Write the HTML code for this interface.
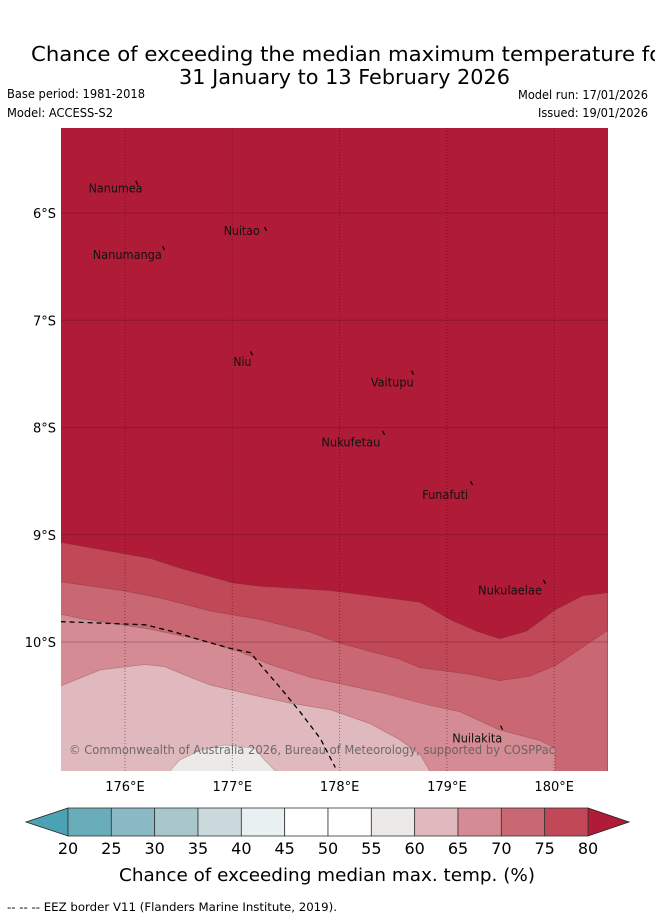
<!DOCTYPE html>
<html><head><meta charset="utf-8"><style>
html,body{margin:0;padding:0;background:#fff;}
svg{display:block;font-family:"DejaVu Sans","Liberation Sans",sans-serif;}
</style></head><body>
<svg id="chart" width="655" height="919" viewBox="0 0 655 919">
<text x="31" y="61" font-size="20.5" textLength="640" lengthAdjust="spacingAndGlyphs" fill="#000">Chance of exceeding the median maximum temperature for</text>
<text x="179" y="84" font-size="20.5" textLength="331" lengthAdjust="spacingAndGlyphs" fill="#000">31 January to 13 February 2026</text>
<text x="7" y="98" font-size="12" textLength="138" lengthAdjust="spacingAndGlyphs">Base period: 1981-2018</text>
<text x="7" y="117" font-size="12" textLength="106" lengthAdjust="spacingAndGlyphs">Model: ACCESS-S2</text>
<text x="648" y="99" font-size="12" text-anchor="end" textLength="130" lengthAdjust="spacingAndGlyphs">Model run: 17/01/2026</text>
<text x="648" y="117" font-size="12" text-anchor="end" textLength="110" lengthAdjust="spacingAndGlyphs">Issued: 19/01/2026</text>
<defs><clipPath id="mapclip"><rect x="61" y="128" width="547" height="643"/></clipPath></defs>
<g id="map" clip-path="url(#mapclip)"></g>
<g id="axes"></g>
<g id="cbar"></g>
<text x="119" y="881" font-size="18" textLength="416" lengthAdjust="spacingAndGlyphs">Chance of exceeding median max. temp. (%)</text>
<text x="7" y="911" font-size="11.5" textLength="330" lengthAdjust="spacingAndGlyphs">-- -- -- EEZ border V11 (Flanders Marine Institute, 2019).</text>
</svg>
<script>
// Data
const lonTicks=[176,177,178,179,180];
const latTicks=[-6,-7,-8,-9,-10];
const cbarLevels=[20,25,30,35,40,45,50,55,60,65,70,75,80];
const cbarColors=["#6aadba","#8ab9c4","#a9c7cb","#c9d9dc","#e9f0f1","#ffffff","#ffffff","#ebeae8","#dfb9bd","#d48b93","#c96772","#c04857"];
const lowColor="#4ba2b2", highColor="#b01c37";
const c75Lon=[175.40,176.23,176.51,177.01,177.26,177.91,178.75,179.03,179.28,179.49,179.74,180.01,180.26,180.50];
const c75Lat=[-9.07,-9.22,-9.31,-9.45,-9.48,-9.52,-9.63,-9.79,-9.90,-9.97,-9.90,-9.70,-9.57,-9.54];
const c70Lon=[175.40,175.97,176.33,176.79,177.26,177.73,178.00,178.56,178.75,179.21,179.49,179.77,180.01,180.50];
const c70Lat=[-9.44,-9.52,-9.59,-9.71,-9.79,-9.91,-10.01,-10.16,-10.24,-10.30,-10.36,-10.32,-10.22,-9.89];
const c65Lon=[175.40,175.58,176.23,176.70,177.07,177.35,177.73,178.38,178.84,179.12,179.49,179.87,180.01,180.01];
const c65Lat=[-9.74,-9.78,-9.88,-9.98,-10.09,-10.21,-10.33,-10.47,-10.59,-10.65,-10.82,-10.92,-10.99,-11.20];
const c60Lon=[175.40,175.77,176.19,176.37,176.61,176.79,177.26,177.54,177.91,178.28,178.56,178.75,178.84];
const c60Lat=[-10.41,-10.26,-10.21,-10.23,-10.33,-10.40,-10.51,-10.57,-10.63,-10.76,-10.91,-11.05,-11.20];
const c55Lon=[176.42,176.51,176.70,176.93,177.21,177.30,177.40];
const c55Lat=[-11.20,-11.10,-11.01,-10.96,-10.99,-11.10,-11.20];
const eezLon=[175.40,176.19,176.47,176.70,176.98,177.17,177.26,177.45,177.63,177.82,177.96];
const eezLat=[-9.81,-9.84,-9.91,-9.98,-10.06,-10.10,-10.21,-10.43,-10.65,-10.90,-11.17];
const islandNames=["Nanumea","Nuitao","Nanumanga","Niu","Vaitupu","Nukufetau","Funafuti","Nukulaelae","Nuilakita"];
const islandLon=[176.10,177.30,176.35,177.17,178.67,178.40,179.22,179.90,179.50];
const islandLat=[-5.70,-6.13,-6.31,-7.29,-7.47,-8.03,-8.50,-9.42,-10.78];
const labelLon=[175.66,176.92,175.70,177.01,178.29,177.83,178.77,179.29,179.05];
const labelLat=[-5.77,-6.17,-6.39,-7.39,-7.58,-8.14,-8.63,-9.52,-10.90];
const labelWidths=[54,36,69,18,43,59,46,64,50];

const NS="http://www.w3.org/2000/svg";
function xS(lon){return 125+(lon-176)*107.3;}
function yS(lat){return 213+(-6-lat)*107.25;}
function mk(tag,attrs,parent){const e=document.createElementNS(NS,tag);for(const k in attrs)e.setAttribute(k,attrs[k]);parent.appendChild(e);return e;}
const map=document.getElementById('map');
const bg=mk('rect',{x:61,y:128,width:547,height:643,fill:highColor},map);


const BOT=yS(-11.2)+5;
function band(lons,lats,color,name){
  let d='M'+lons.map((l,i)=>xS(l).toFixed(1)+','+yS(lats[i]).toFixed(1)).join(' L');
  d+=' L'+xS(lons[lons.length-1]).toFixed(1)+','+BOT+' L'+xS(lons[0]).toFixed(1)+','+BOT+' Z';
  const p=mk('path',{d:d,fill:color,stroke:'rgba(90,30,40,0.3)','stroke-width':0.7},map);
  
  
}
band(c75Lon,c75Lat,"#c04857","contour-75-80");
band(c70Lon,c70Lat,"#c96772","contour-70-75");
band(c65Lon,c65Lat,"#d48b93","contour-65-70");
band(c60Lon,c60Lat,"#dfb9bd","contour-60-65");
band(c55Lon,c55Lat,"#ebeae8","contour-55-60");
lonTicks.forEach(l=>{const g=mk('line',{x1:xS(l),x2:xS(l),y1:128,y2:771,stroke:'rgba(60,0,10,0.45)','stroke-width':1,'stroke-dasharray':'1,2'},map);

});
latTicks.forEach(l=>{const g=mk('line',{x1:61,x2:608,y1:yS(l),y2:yS(l),stroke:'rgba(60,0,10,0.25)','stroke-width':1},map);

});
const eez=mk('polyline',{points:eezLon.map((l,i)=>xS(l).toFixed(1)+','+yS(eezLat[i]).toFixed(1)).join(' '),fill:'none',stroke:'#000','stroke-width':1.3,'stroke-dasharray':'5,4'},map);


islandNames.forEach((n,i)=>{
  const m=mk('line',{x1:xS(islandLon[i]),y1:yS(islandLat[i]),x2:xS(islandLon[i])+2,y2:yS(islandLat[i])+4,stroke:'#000','stroke-width':1.2},map);
  
  
  const t=mk('text',{x:xS(labelLon[i]),y:yS(labelLat[i])+4,'font-size':12,fill:'#111',textLength:labelWidths[i],lengthAdjust:'spacingAndGlyphs'},map);
  t.textContent=n;
  
  
});
const cp=mk('text',{x:69,y:754,'font-size':12,fill:'rgba(90,90,90,0.85)',textLength:486,lengthAdjust:'spacingAndGlyphs'},map);
cp.textContent='© Commonwealth of Australia 2026, Bureau of Meteorology, supported by COSPPac';


const axes=document.getElementById('axes');
lonTicks.forEach(l=>{const t=mk('text',{x:xS(l),y:791,'font-size':13,'text-anchor':'middle'},axes);
t.textContent=l+'°E';

});
latTicks.forEach(l=>{const t=mk('text',{x:56,y:yS(l)+5,'font-size':13,'text-anchor':'end'},axes);
t.textContent=(-l)+'°S';

});
const cb=document.getElementById('cbar');
const cx0=68,cx1=588,cy0=808,cy1=836,seg=(cx1-cx0)/cbarColors.length;
const la=mk('polygon',{points:`${cx0},${cy0} 26,822 ${cx0},${cy1}`,fill:lowColor,stroke:'#222','stroke-width':0.8},cb);


const ha=mk('polygon',{points:`${cx1},${cy0} 629,822 ${cx1},${cy1}`,fill:highColor,stroke:'#222','stroke-width':0.8},cb);


cbarColors.forEach((c,i)=>{const r=mk('rect',{x:cx0+i*seg,y:cy0,width:seg,height:cy1-cy0,fill:c,stroke:'#333','stroke-width':0.8},cb);

});
cbarLevels.forEach((v,i)=>{const t=mk('text',{x:cx0+i*seg,y:854,'font-size':16,'text-anchor':'middle'},cb);
t.textContent=v;

});
</script>
</body></html>
